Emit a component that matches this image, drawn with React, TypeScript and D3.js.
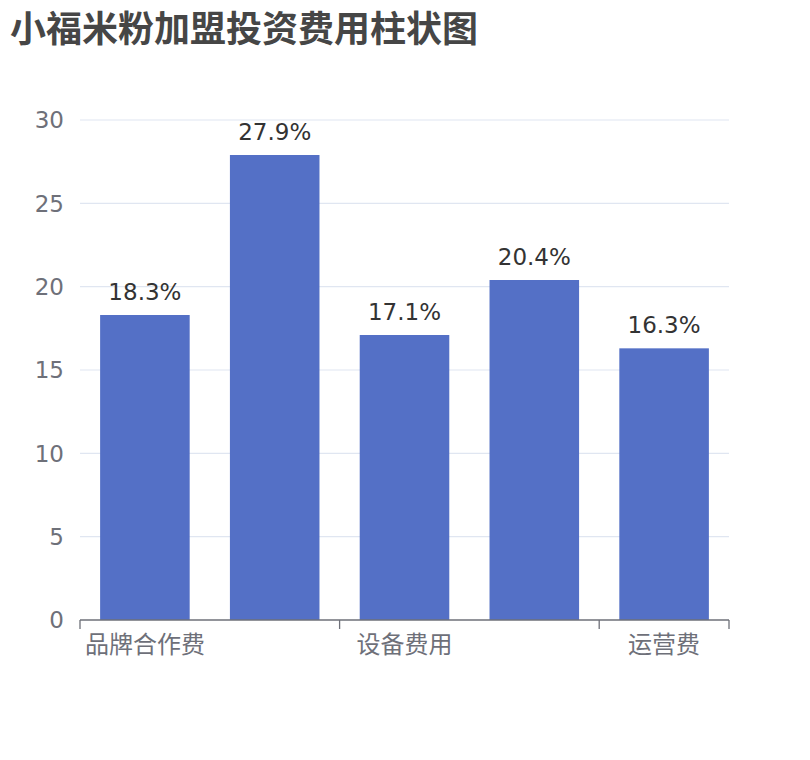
import React from 'react';
import * as d3 from 'd3';

const categories = ['品牌合作费', '店面装修费', '设备费用', '首批原料费', '运营费'];
const values = [18.3, 27.9, 17.1, 20.4, 16.3];
const yTicks = [0, 5, 10, 15, 20, 25, 30];
// only every other category label is shown, like the original
const shownLabels = [0, 2, 4];

const W = 810;
const H = 760;
const M = { top: 120, right: 81, bottom: 140, left: 80 };
const FONT = '"DejaVu Sans", "Noto Sans CJK SC", sans-serif';
const CJK = '"Noto Sans CJK SC", "Noto Sans", sans-serif';

export default function App() {
  const innerW = W - M.left - M.right;
  const innerH = H - M.top - M.bottom;

  const x = d3.scaleBand<string>().domain(categories).range([0, innerW]).paddingInner(0.31).paddingOuter(0.155);
  const band = d3.scaleBand<string>().domain(categories).range([0, innerW]);
  const y = d3.scaleLinear().domain([0, 30]).range([innerH, 0]);

  const tickIdx = [0, 2, 4];

  return (
    <div style={{ margin: -8, width: W, height: H, background: '#fff' }}>
      <svg width={W} height={H} style={{ display: 'block', fontFamily: FONT }}>
        <text x={10} y={42} fontSize={36} fontWeight="bold" fill="#464646" fontFamily={CJK}>
          小福米粉加盟投资费用柱状图
        </text>
        <g transform={`translate(${M.left},${M.top})`}>
          {yTicks.map(t => (
            <g key={t}>
              {t > 0 && (
                <line x1={0} x2={innerW} y1={y(t)} y2={y(t)} stroke="#E0E6F1" strokeWidth={1.2} />
              )}
              <text x={-16} y={y(t)} dy="0.36em" textAnchor="end" fontSize={23} fill="#6E7079">
                {t}
              </text>
            </g>
          ))}

          {categories.map((c, i) => (
            <g key={c}>
              <rect
                x={x(c)}
                y={y(values[i])}
                width={x.bandwidth()}
                height={innerH - y(values[i])}
                fill="#5470C6"
              />
              <text
                x={(x(c) ?? 0) + x.bandwidth() / 2}
                y={y(values[i]) - 15}
                textAnchor="middle"
                fontSize={23}
                fill="#333"
              >
                {values[i]}%
              </text>
            </g>
          ))}

          <line x1={0} x2={innerW} y1={innerH} y2={innerH} stroke="#6E7079" strokeWidth={1.3} />
          {tickIdx.map(i => (
            <line key={i} x1={band(categories[i])} x2={band(categories[i])} y1={innerH} y2={innerH + 9} stroke="#6E7079" strokeWidth={1.3} />
          ))}
          <line x1={innerW} x2={innerW} y1={innerH} y2={innerH + 9} stroke="#6E7079" strokeWidth={1.3} />

          {shownLabels.map(i => (
            <text
              key={i}
              x={(band(categories[i]) ?? 0) + band.bandwidth() / 2}
              y={innerH + 33}
              textAnchor="middle"
              fontSize={24}
              fill="#6E7079"
              fontFamily={CJK}
            >
              {categories[i]}
            </text>
          ))}
        </g>
      </svg>
    </div>
  );
}
